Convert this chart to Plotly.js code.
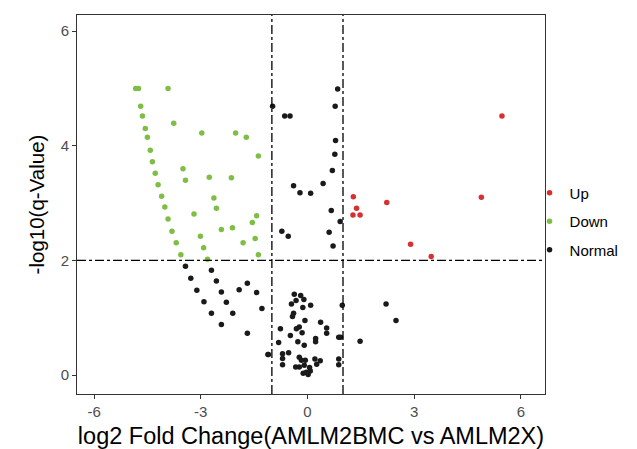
<!DOCTYPE html>
<html><head><meta charset="utf-8">
<script src="https://cdn.plot.ly/plotly-3.0.1.min.js"></script>
<style>html,body{margin:0;padding:0;background:#fff}#chart{width:637px;height:449px}</style>
</head><body><div id="chart"></div>
<script>
const upX = [1.29, 1.38, 1.28, 1.48, 2.23, 2.90, 3.48, 4.89, 5.47];
const upY = [3.11, 2.91, 2.79, 2.79, 3.01, 2.28, 2.07, 3.10, 4.52];

const downX = [-4.83, -4.75, -3.92, -4.69, -4.64, -3.76, -4.56, -4.50, -2.97, -2.02, -1.72, -4.42, -1.38, -4.36, -3.50, -4.28, -3.43, -2.76, -2.14, -4.20, -4.10, -2.63, -4.01, -2.56, -3.19, -1.43, -3.92, -1.55, -2.42, -2.11, -3.81, -3.01, -1.47, -3.69, -1.81, -2.92, -3.56, -2.81, -1.38];
const downY = [5.00, 5.00, 5.00, 4.69, 4.52, 4.39, 4.30, 4.15, 4.22, 4.22, 4.15, 3.92, 3.82, 3.72, 3.60, 3.52, 3.40, 3.45, 3.44, 3.32, 3.12, 3.09, 2.93, 2.91, 2.81, 2.78, 2.72, 2.66, 2.54, 2.57, 2.51, 2.42, 2.38, 2.31, 2.31, 2.22, 2.10, 2.02, 2.10];

const normalX = [-0.98, -0.64, -0.49, 0.85, 0.78, 0.79, 0.77, 0.70, 0.44, -0.39, -0.21, 0.09, 0.67, 0.92, -0.72, -0.54, 0.61, 0.72,
  -3.43, -2.70, -3.28, -2.56, -1.69, -3.11, -2.42, -1.92, -1.43, -2.91, -2.28, -1.28, -2.70, -2.10, -2.42, -1.69, -1.10, -0.81, -0.76,
  2.21, 2.49, 1.48, 0.98, 0.93,
  -0.37, -0.19, -0.32, -0.10, -0.45, -0.13, 0.09, -0.39, -0.42, -0.07, 0.37, -0.31, -0.23, -0.15, 0.54, 0.54, -0.48, 0.23, 0.23, 0.88,
  -0.27, -0.09, -1.11, -0.70, -0.53, -0.70, -0.23, -0.17, -0.06, 0.21, 0.36, 0.88, -0.70, 0.26, 0.88, -0.33, -0.23, -0.09, 0.06, 0.08, -0.12, 0.02, -0.03];
const normalY = [4.69, 4.52, 4.52, 4.99, 4.69, 4.09, 3.85, 3.57, 3.34, 3.30, 3.18, 3.17, 2.87, 2.68, 2.51, 2.42, 2.49, 2.25,
  1.90, 1.83, 1.69, 1.64, 1.60, 1.48, 1.45, 1.49, 1.44, 1.28, 1.27, 1.16, 1.08, 1.08, 0.88, 0.73, 0.36, 0.57, 0.81,
  1.24, 0.95, 0.59, 1.22, 0.66,
  1.41, 1.39, 1.30, 1.32, 1.24, 1.18, 1.22, 1.08, 1.02, 0.95, 0.92, 0.81, 0.84, 0.74, 0.82, 0.73, 0.69, 0.64, 0.58, 0.66,
  0.58, 0.52, 0.36, 0.37, 0.39, 0.29, 0.31, 0.26, 0.26, 0.28, 0.25, 0.28, 0.18, 0.19, 0.18, 0.14, 0.14, 0.17, 0.13, 0.07, 0.03, 0.01, 0.05];

const FONT = 'Liberation Sans, Arial, sans-serif';
function tr(name, x, y, color, grp) {
  return {type: 'scatter', mode: 'markers', name: name, x: x, y: y, legendgroup: grp,
    marker: {color: color, size: 5.5, line: {width: 0}}};
}
const data = [
  tr('Up', upX, upY, '#d7302e', 'g1'),
  tr('Down', downX, downY, '#7fbe45', 'g2'),
  tr('Normal', normalX, normalY, '#1a1a1a', 'g3')
];
const dash = {color: '#000', width: 1.3, dash: 'dashdot'};
const layout = {
  width: 637, height: 449,
  margin: {l: 77, r: 92, t: 15, b: 55},
  paper_bgcolor: '#fff', plot_bgcolor: '#fff',
  font: {family: FONT, color: '#000'},
  xaxis: {range: [-6.48, 6.68], tickvals: [-6, -3, 0, 3, 6], ticktext: ['-6', '-3', '0', '3', '6'],
    showgrid: false, zeroline: false, showline: true, linecolor: '#333', linewidth: 1, mirror: true,
    ticks: 'outside', ticklen: 4, tickcolor: '#333', tickfont: {size: 15, color: '#4d4d4d', family: FONT},
    title: {text: 'log2 Fold Change(AMLM2BMC vs AMLM2X)', font: {size: 23.5, color: '#000', family: FONT}, standoff: 8},
    automargin: false},
  yaxis: {range: [-0.33, 6.28], tickvals: [0, 2, 4, 6],
    showgrid: false, zeroline: false, showline: true, linecolor: '#333', linewidth: 1, mirror: true,
    ticks: 'outside', ticklen: 4, tickcolor: '#333', tickfont: {size: 15, color: '#4d4d4d', family: FONT},
    title: {text: '-log10(q-Value)', font: {size: 20.5, color: '#000', family: FONT}, standoff: 10},
    automargin: false},
  showlegend: true,
  legend: {x: 0.967, xanchor: 'left', y: 0.455, yanchor: 'middle',
    traceorder: 'grouped', tracegroupgap: 6,
    font: {size: 15, color: '#000', family: FONT}, bgcolor: 'rgba(0,0,0,0)', itemwidth: 30},
  shapes: [
    {type: 'line', xref: 'x', yref: 'paper', x0: -1, x1: -1, y0: 0, y1: 1, line: dash},
    {type: 'line', xref: 'x', yref: 'paper', x0: 1, x1: 1, y0: 0, y1: 1, line: dash},
    {type: 'line', xref: 'paper', yref: 'y', x0: 0, x1: 1, y0: 2, y1: 2, line: dash}
  ]
};
Plotly.newPlot('chart', data, layout, {displayModeBar: false});
</script></body></html>
